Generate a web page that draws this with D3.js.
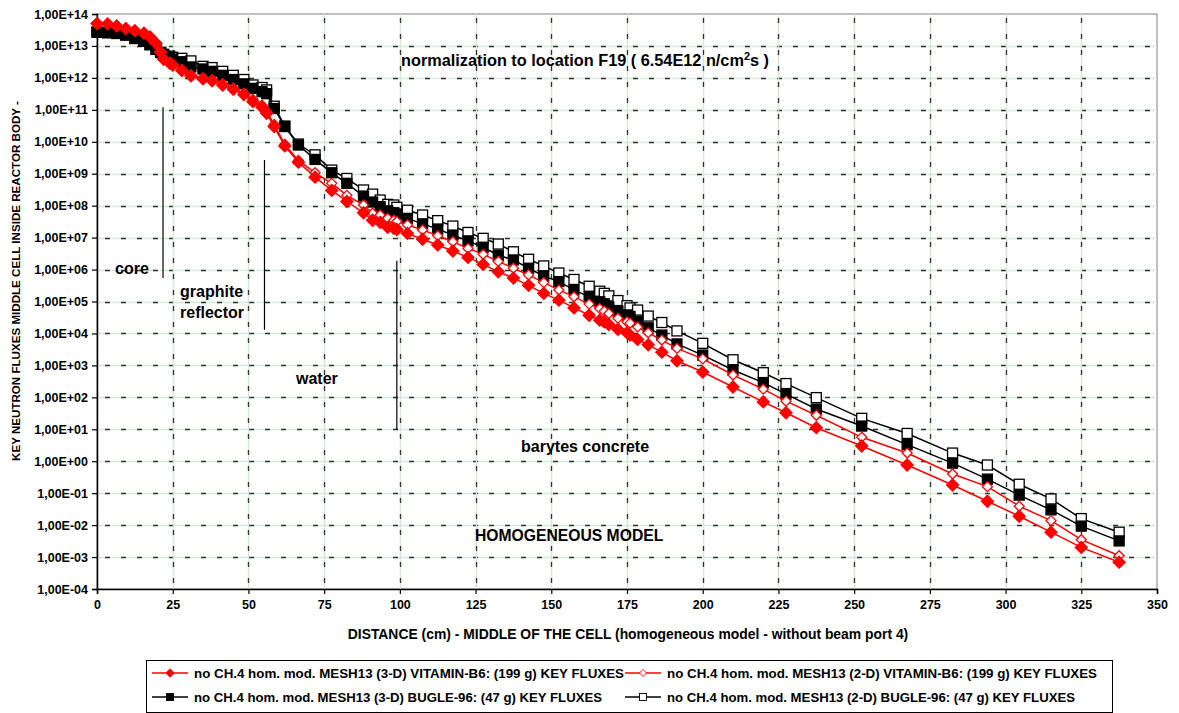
<!DOCTYPE html>
<html>
<head>
<meta charset="utf-8">
<script src="https://cdn.jsdelivr.net/npm/d3@7"></script>
<style>
  body { margin: 0; background: #fff; }
  text { font-family: "Liberation Sans", Arial, sans-serif; font-weight: bold; }
</style>
</head>
<body>
<div id="chart"></div>
<script>
// distances (cm) - middle of the cell
var distance = [0, 3.5, 6.5, 9.5, 12.5, 15.5, 17.5, 19.5, 21, 22, 24, 25, 28, 31, 35, 38, 41.5, 45, 48.5, 51.5,
  54.5, 56, 58.5, 62, 66.5, 72, 77.5, 82.5, 88, 91, 93.5, 96, 98, 99, 102.5, 107.5, 112.5, 117.5, 122.5, 127.5,
  132.5, 137.5, 142.5, 147.5, 152.5, 157.5, 162.5, 166, 167.5, 169, 172, 175, 176, 178.5, 182, 186.5, 191.5, 200,
  210, 220, 227.5, 237.5, 252.5, 267.5, 282.5, 294, 304.5, 315, 325, 337.5];

// 3-D VITAMIN-B6
var vit3d = [5.0e13, 4.9e13, 4.2e13, 3.5e13, 3.0e13, 2.5e13, 1.9e13, 1.2e13, 6.3e12, 3.8e12, 2.9e12, 2.5e12, 1.7e12,
  1.15e12, 9.3e11, 8.1e11, 6.0e11, 4.4e11, 3.0e11, 1.8e11, 1.2e11, 7.8e10, 3.0e10, 7.4e9, 2.3e9, 7.8e8, 3.0e8,
  1.35e8, 6.0e7, 3.5e7, 3.0e7, 2.1e7, 1.95e7, 1.8e7, 1.35e7, 8.9e6, 5.9e6, 3.8e6, 2.4e6, 1.45e6, 8.5e5, 5.4e5,
  3.2e5, 1.8e5, 1.1e5, 6.3e4, 3.7e4, 2.6e4, 2.3e4, 1.9e4, 1.35e4, 1.05e4, 8.9e3, 6.5e3, 4.4e3, 2.6e3, 1.4e3,
  620, 210, 72, 33, 11.2, 3.0, 0.76, 0.18, 0.056, 0.019, 0.006, 0.002, 0.00069];

// 2-D VITAMIN-B6
var vit2d = [5.0e13, 4.8e13, 4.2e13, 3.5e13, 3.0e13, 2.5e13, 1.9e13, 1.26e13, 6.6e12, 4.0e12, 3.0e12, 2.6e12, 1.8e12,
  1.26e12, 1.0e12, 8.7e11, 6.6e11, 4.8e11, 3.3e11, 2.1e11, 1.4e11, 8.9e10, 3.5e10, 8.3e9, 2.6e9, 1.07e9, 5.0e8,
  2.1e8, 1.05e8, 5.8e7, 5.1e7, 4.0e7, 3.5e7, 3.2e7, 2.5e7, 1.74e7, 1.15e7, 7.4e6, 4.6e6, 3.0e6, 1.8e6, 1.1e6,
  6.8e5, 3.9e5, 2.3e5, 1.4e5, 8.3e4, 6.0e4, 5.0e4, 4.2e4, 3.0e4, 2.3e4, 2.1e4, 1.6e4, 1.05e4, 6.2e3, 3.4e3,
  1.6e3, 500, 180, 76, 27.5, 5.6, 1.8, 0.40, 0.16, 0.039, 0.0138, 0.0035, 0.0011];

// 3-D BUGLE-96
var bug3d = [2.7e13, 2.6e13, 2.45e13, 2.2e13, 1.7e13, 1.4e13, 1.1e13, 7.8e12, 6.2e12, 5.2e12, 4.4e12, 3.8e12, 3.2e12,
  2.2e12, 1.9e12, 1.6e12, 1.2e12, 8.9e11, 6.5e11, 4.7e11, 3.7e11, 3.2e11, 1.1e11, 3.0e10, 7.9e9, 2.8e9, 1.07e9,
  5.0e8, 2.0e8, 1.3e8, 9.3e7, 6.9e7, 6.0e7, 5.5e7, 4.0e7, 2.7e7, 1.86e7, 1.2e7, 7.9e6, 5.0e6, 2.8e6, 2.0e6,
  1.1e6, 6.3e5, 4.2e5, 2.3e5, 1.4e5, 9.8e4, 8.5e4, 6.8e4, 5.0e4, 3.8e4, 3.4e4, 2.4e4, 1.5e4, 8.9e3, 4.7e3,
  2.1e3, 720, 290, 126, 43, 12.6, 3.3, 0.87, 0.275, 0.087, 0.030, 0.0093, 0.0032];

// 2-D BUGLE-96
var bug2d = [2.7e13, 2.6e13, 2.5e13, 2.2e13, 1.75e13, 1.4e13, 1.1e13, 7.9e12, 6.3e12, 5.5e12, 4.8e12, 4.4e12, 4.1e12,
  3.4e12, 2.3e12, 2.1e12, 1.6e12, 1.2e12, 8.9e11, 6.0e11, 5.0e11, 4.2e11, 1.3e11, 3.1e10, 8.5e9, 3.9e9, 1.3e9,
  7.1e8, 3.1e8, 2.3e8, 1.5e8, 1.1e8, 1.05e8, 8.9e7, 7.2e7, 5.1e7, 3.4e7, 2.3e7, 1.45e7, 9.5e6, 6.3e6, 3.6e6,
  2.1e6, 1.3e6, 7.8e5, 4.9e5, 3.0e5, 2.1e5, 1.8e5, 1.5e5, 1.07e5, 7.4e4, 6.3e4, 5.4e4, 3.5e4, 2.2e4, 1.2e4,
  4.9e3, 1.5e3, 590, 270, 98, 22, 7.4, 1.8, 0.76, 0.19, 0.066, 0.016, 0.006];

var seriesNames = [
  "no CH.4 hom. mod. MESH13 (3-D) VITAMIN-B6: (199 g) KEY FLUXES",
  "no CH.4 hom. mod. MESH13 (2-D) VITAMIN-B6: (199 g) KEY FLUXES",
  "no CH.4 hom. mod. MESH13 (3-D) BUGLE-96: (47 g) KEY FLUXES",
  "no CH.4 hom. mod. MESH13 (2-D) BUGLE-96: (47 g) KEY FLUXES"
];

var xTicks = [0, 25, 50, 75, 100, 125, 150, 175, 200, 225, 250, 275, 300, 325, 350];
var yTicks = [1e-4, 1e-3, 1e-2, 1e-1, 1e0, 1e1, 1e2, 1e3, 1e4, 1e5, 1e6, 1e7, 1e8, 1e9, 1e10, 1e11, 1e12, 1e13, 1e14];

// region boundaries drawn as thin vertical lines [x, yFrom, yTo]
var boundaries = [[21.8, 1.2e11, 5.4e5], [55.3, 2.7e9, 1.3e4], [99, 1.9e6, 9.5]];

var W = 1179, H = 713;
var plot = {left: 97, right: 1157, top: 14, bottom: 589};

var svg = d3.select("#chart").append("svg").attr("width", W).attr("height", H);

var x = d3.scaleLinear().domain([0, 350]).range([plot.left, plot.right]);
var y = d3.scaleLog().domain([1e-4, 1e14]).range([plot.bottom, plot.top]);

function expLabel(v) {
  var e = Math.round(Math.log10(v));
  var s = Math.abs(e) < 10 ? "0" + Math.abs(e) : "" + Math.abs(e);
  return "1,00E" + (e < 0 ? "-" : "+") + s;
}

// plot border
svg.append("rect")
  .attr("x", plot.left).attr("y", plot.top)
  .attr("width", plot.right - plot.left).attr("height", plot.bottom - plot.top)
  .attr("fill", "none").attr("stroke", "#808080").attr("stroke-width", 1);

// grid: pale green solid + black dashes
var grid = svg.append("g");
yTicks.slice(1, -1).forEach(function (t) {
  var yy = Math.round(y(t)) + 0.5;
  grid.append("line").attr("x1", plot.left).attr("x2", plot.right).attr("y1", yy).attr("y2", yy)
    .attr("stroke", "#d4ead4").attr("stroke-width", 1.5);
  grid.append("line").attr("x1", plot.left + 8).attr("x2", plot.right).attr("y1", yy).attr("y2", yy)
    .attr("stroke", "#333").attr("stroke-width", 1.3).attr("stroke-dasharray", "5,11");
});
xTicks.slice(1, -1).forEach(function (t) {
  var xx = Math.round(x(t)) + 0.5;
  grid.append("line").attr("x1", xx).attr("x2", xx).attr("y1", plot.top).attr("y2", plot.bottom)
    .attr("stroke", "#d4ead4").attr("stroke-width", 1.5);
  grid.append("line").attr("x1", xx).attr("x2", xx).attr("y1", plot.top + 4).attr("y2", plot.bottom)
    .attr("stroke", "#333").attr("stroke-width", 1.3).attr("stroke-dasharray", "5,11");
});

// axes
var yAxis = svg.append("g").attr("transform", "translate(" + plot.left + ",0)")
  .call(d3.axisLeft(y).tickValues(yTicks).tickFormat(expLabel).tickSize(5).tickPadding(4));
var xAxis = svg.append("g").attr("transform", "translate(0," + plot.bottom + ")")
  .call(d3.axisBottom(x).tickValues(xTicks).tickSize(5).tickPadding(6));
[yAxis, xAxis].forEach(function (a) {
  a.select(".domain").attr("stroke", "#000").attr("stroke-width", 1.5);
  a.selectAll(".tick line").attr("stroke", "#000").attr("stroke-width", 1.2);
  a.selectAll("text").attr("font-size", 12.5).attr("font-weight", "bold").attr("fill", "#000")
    .attr("font-family", "Liberation Sans, Arial, sans-serif");
});

// boundary lines
boundaries.forEach(function (b) {
  svg.append("line").attr("x1", x(b[0])).attr("x2", x(b[0])).attr("y1", y(b[1])).attr("y2", y(b[2]))
    .attr("stroke", "#000").attr("stroke-width", 1.2);
});

// series
var series = [
  {vals: bug2d, color: "#000", shape: "square", fill: "#fff"},
  {vals: bug3d, color: "#000", shape: "square", fill: "#000"},
  {vals: vit2d, color: "#ff0000", shape: "diamond", fill: "#fff"},
  {vals: vit3d, color: "#ff0000", shape: "diamond", fill: "#ff0000"}
];

var line = d3.line().x(function (d) { return x(d[0]); }).y(function (d) { return y(d[1]); });

function marker(g, shape, fill, color) {
  if (shape === "square") {
    g.append("rect").attr("x", -5).attr("y", -5).attr("width", 10).attr("height", 10)
      .attr("fill", fill).attr("stroke", color).attr("stroke-width", 1.3);
  } else {
    var r = fill === "#fff" ? 5 : 6;
    g.append("path").attr("d", "M0," + (-r) + "L" + r + ",0L0," + r + "L" + (-r) + ",0Z")
      .attr("fill", fill).attr("stroke", color).attr("stroke-width", 1.3);
  }
}

series.forEach(function (s) {
  var pts = distance.map(function (d, i) { return [d, s.vals[i]]; });
  svg.append("path").datum(pts).attr("d", line)
    .attr("fill", "none").attr("stroke", s.color).attr("stroke-width", 1.5);
  svg.append("g").selectAll("g").data(pts).enter().append("g")
    .attr("transform", function (d) { return "translate(" + x(d[0]) + "," + y(d[1]) + ")"; })
    .each(function () { marker(d3.select(this), s.shape, s.fill, s.color); });
});

// annotations
function label(txt, px, py, size) {
  return svg.append("text").attr("x", px).attr("y", py).attr("font-size", size || 16).attr("fill", "#000").text(txt);
}
var norm = svg.append("text").attr("x", 401).attr("y", 66).attr("font-size", 16.3).attr("fill", "#000");
norm.append("tspan").text("normalization to location F19 ( 6.54E12 n/cm");
norm.append("tspan").attr("dy", -6).attr("font-size", 11).text("2");
norm.append("tspan").attr("dy", 6).text("s )");
label("core", 115, 274);
label("graphite", 180, 297);
label("reflector", 180, 318);
label("water", 296, 384);
label("barytes concrete", 521, 452);
label("HOMOGENEOUS MODEL", 475, 541, 15.7);

// axis titles
svg.append("text").attr("x", 628).attr("y", 639).attr("text-anchor", "middle").attr("font-size", 13.9)
  .text("DISTANCE (cm) - MIDDLE OF THE CELL (homogeneous model - without beam port 4)");
svg.append("text").attr("transform", "translate(20,281) rotate(-90)").attr("text-anchor", "middle")
  .attr("font-size", 11.6).text("KEY NEUTRON FLUXES MIDDLE CELL INSIDE REACTOR BODY -");

// legend
var lg = svg.append("g");
lg.append("rect").attr("x", 146.5).attr("y", 660.5).attr("width", 966).attr("height", 52)
  .attr("fill", "#fff").attr("stroke", "#000").attr("stroke-width", 1);
var legendItems = [
  {name: seriesNames[0], s: series[3], lx: 152, ly: 673, len: 430},
  {name: seriesNames[1], s: series[2], lx: 625, ly: 673, len: 430},
  {name: seriesNames[2], s: series[1], lx: 152, ly: 697, len: 408},
  {name: seriesNames[3], s: series[0], lx: 625, ly: 697, len: 408}
];
legendItems.forEach(function (it) {
  var g = lg.append("g").attr("transform", "translate(" + it.lx + "," + it.ly + ")");
  g.append("line").attr("x1", 0).attr("x2", 36).attr("y1", 0).attr("y2", 0)
    .attr("stroke", it.s.color).attr("stroke-width", 1.5);
  var m = g.append("g").attr("transform", "translate(18,0) scale(0.7)");
  marker(m, it.s.shape, it.s.fill, it.s.color);
  g.append("text").attr("x", 42).attr("y", 4.5).attr("font-size", 13)
    .attr("textLength", it.len).attr("lengthAdjust", "spacingAndGlyphs").text(it.name);
});
</script>
</body>
</html>
